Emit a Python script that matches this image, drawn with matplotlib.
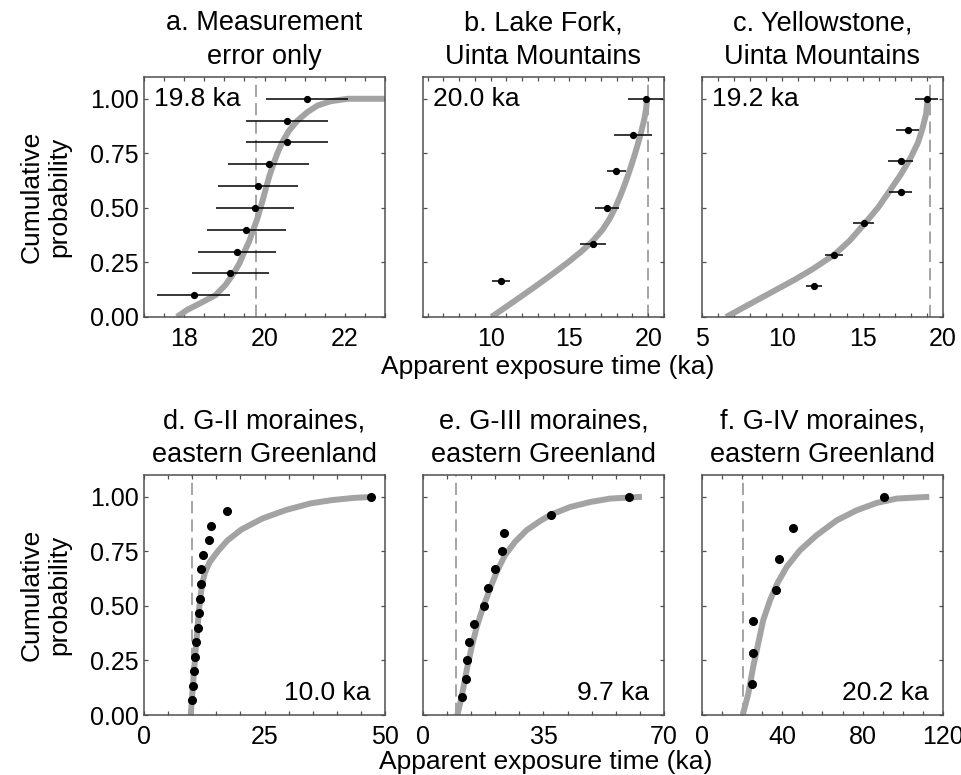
import matplotlib
matplotlib.use("Agg")
import matplotlib.pyplot as plt
from matplotlib.ticker import MultipleLocator

plt.rcParams['font.family'] = ['Liberation Sans', 'DejaVu Sans']

# ---- panel a: measurement error only
a_age = [18.24, 19.15, 19.32, 19.55, 19.76, 19.84, 20.1, 20.55, 20.57, 21.06]
a_err = [0.91, 0.95, 0.97, 0.98, 0.98, 0.99, 1.0, 1.02, 1.02, 1.03]
a_prob = [0.1, 0.2, 0.3, 0.4, 0.5, 0.6, 0.7, 0.8, 0.9, 1.0]
a_curve_x = [17.82, 18.07, 18.4, 18.78, 19.03, 19.23, 19.38, 19.5, 19.62, 19.72, 19.82, 19.9,
             19.98, 20.05, 20.13, 20.22, 20.32, 20.44, 20.61, 20.82, 21.07, 21.32, 21.65, 22.07, 23.2]
a_curve_y = [0.0, 0.032, 0.063, 0.1, 0.147, 0.2, 0.247, 0.3, 0.347, 0.4, 0.45, 0.5,
             0.552, 0.6, 0.651, 0.7, 0.75, 0.8, 0.854, 0.9, 0.939, 0.969, 0.989, 1.0, 1.0]

# ---- panel b: Lake Fork
b_age = [10.66, 16.5, 17.39, 17.98, 19.04, 19.83]
b_err = [0.55, 0.8, 0.75, 0.6, 1.2, 1.1]
b_prob = [0.167, 0.333, 0.5, 0.667, 0.833, 1.0]
b_curve_x = [10.05, 11.05, 12.05, 13.03, 13.98, 14.9, 15.75, 16.5, 17.1, 17.55, 17.9,
             18.2, 18.47, 18.72, 18.95, 19.17, 19.37, 19.56, 19.73, 19.86, 19.93]
b_curve_y = [0.0, 0.05, 0.1, 0.15, 0.2, 0.25, 0.3, 0.35, 0.4, 0.45, 0.5,
             0.55, 0.6, 0.65, 0.7, 0.75, 0.8, 0.85, 0.9, 0.95, 1.0]

# ---- panel c: Yellowstone
c_age = [11.97, 13.21, 15.08, 17.36, 17.36, 17.8, 18.98]
c_err = [0.49, 0.55, 0.65, 0.72, 0.75, 0.73, 0.7]
c_prob = [0.143, 0.286, 0.429, 0.571, 0.714, 0.857, 1.0]
c_curve_x = [6.5, 7.5, 8.5, 9.5, 10.75, 11.9, 13.25, 14.2, 15.15, 15.95, 16.75, 17.35,
             17.95, 18.45, 18.72, 18.95, 19.05]
c_curve_y = [0.0, 0.04, 0.08, 0.12, 0.17, 0.22, 0.286, 0.35, 0.43, 0.5, 0.585, 0.65,
             0.724, 0.8, 0.862, 0.93, 1.0]

# ---- panel d: G-II
d_age = [9.93, 10.1, 10.42, 10.48, 10.76, 11.1, 11.46, 11.6, 11.74, 11.74, 12.15, 13.54,
         13.82, 17.3, 47.15]
d_prob = [0.067, 0.133, 0.2, 0.267, 0.333, 0.4, 0.467, 0.533, 0.6, 0.667, 0.733, 0.8,
          0.867, 0.933, 1.0]
d_curve_x = [9.7, 10.28, 10.83, 11.4, 11.75, 12.08, 12.6, 13.6, 15.3, 17.3, 20.2, 24.5,
             29.5, 34.6, 39.0, 43.5, 47.7]
d_curve_y = [0.0, 0.175, 0.328, 0.48, 0.55, 0.6, 0.65, 0.7, 0.75, 0.8, 0.85, 0.9,
             0.94, 0.97, 0.985, 0.995, 1.0]

# ---- panel e: G-III
e_age = [11.24, 12.5, 12.9, 13.37, 14.83, 17.73, 18.99, 20.93, 23.06, 23.55, 37.1, 59.9]
e_prob = [0.083, 0.167, 0.25, 0.333, 0.417, 0.5, 0.583, 0.667, 0.75, 0.833, 0.917, 1.0]
e_curve_x = [9.98, 11.24, 12.7, 14.15, 15.6, 17.5, 19.5, 21.4, 23.8, 26.7, 30.1, 34.0,
             37.1, 42.7, 48.5, 54.4, 63.6]
e_curve_y = [0.0, 0.084, 0.206, 0.313, 0.404, 0.496, 0.58, 0.656, 0.732, 0.793, 0.847, 0.889,
             0.918, 0.953, 0.976, 0.992, 1.0]

# ---- panel f: G-IV
f_age = [24.9, 25.5, 25.5, 36.85, 38.5, 45.5, 90.6]
f_prob = [0.143, 0.286, 0.429, 0.571, 0.714, 0.857, 1.0]
f_curve_x = [20.3, 23.1, 25.5, 28.0, 30.5, 33.9, 37.5, 42.2, 48.8, 57.1, 67.1, 77.0, 87.0,
             97.0, 113.2]
f_curve_y = [0.0, 0.099, 0.221, 0.328, 0.435, 0.526, 0.603, 0.679, 0.755, 0.824, 0.892, 0.938,
             0.972, 0.992, 1.0]

titles = ["a. Measurement\nerror only", "b. Lake Fork,\nUinta Mountains",
          "c. Yellowstone,\nUinta Mountains", "d. G-II moraines,\neastern Greenland",
          "e. G-III moraines,\neastern Greenland", "f. G-IV moraines,\neastern Greenland"]
true_ages = [19.8, 20.0, 19.2, 10.0, 9.7, 20.2]
age_labels = ["19.8 ka", "20.0 ka", "19.2 ka", "10.0 ka", "9.7 ka", "20.2 ka"]
xlims = [(17, 23), (5.7, 21), (5, 20), (0, 50), (0, 70), (0, 120)]
xmajor = [2, 5, 5, 25, 35, 40]
xminor = [0.5, 1, 1, 5, 7, 10]

curve_col = '#a3a3a3'
spine_col = '#505050'

fig = plt.figure(figsize=(9.62, 7.75), dpi=100)
lefts = [0.1497, 0.4397, 0.7297]
bottoms = [0.5910, 0.0774]
w, h = 0.2505, 0.3097

ages = [a_age, b_age, c_age, d_age, e_age, f_age]
probs = [a_prob, b_prob, c_prob, d_prob, e_prob, f_prob]
errs = [a_err, b_err, c_err, None, None, None]
cx = [a_curve_x, b_curve_x, c_curve_x, d_curve_x, e_curve_x, f_curve_x]
cy = [a_curve_y, b_curve_y, c_curve_y, d_curve_y, e_curve_y, f_curve_y]

for i in range(6):
    ax = fig.add_axes([lefts[i % 3], bottoms[i // 3], w, h])
    ax.axvline(true_ages[i], color='#8c8c8c', lw=1.1, ls=(0, (8, 4)), zorder=1)
    ax.plot(cx[i], cy[i], color=curve_col, lw=4.3, solid_capstyle='butt',
            solid_joinstyle='round', zorder=2)
    if errs[i] is not None:
        ax.errorbar(ages[i], probs[i], xerr=errs[i], fmt='o', color='black',
                    ms=4.2, elinewidth=1.1, capsize=0, zorder=3)
    else:
        ax.plot(ages[i], probs[i], 'o', color='black', ms=5.5, zorder=3)

    ax.set_xlim(*xlims[i])
    ax.set_ylim(0, 1.1)
    ax.xaxis.set_major_locator(MultipleLocator(xmajor[i]))
    ax.xaxis.set_minor_locator(MultipleLocator(xminor[i]))
    ax.set_yticks([0, 0.25, 0.5, 0.75, 1.0])
    ax.tick_params(which='both', direction='in', top=True, right=True,
                   length=3.2, width=0.9, color=spine_col, labelsize=18)
    ax.tick_params(axis='x', pad=7)
    ax.tick_params(axis='y', pad=4)
    for s in ax.spines.values():
        s.set_color(spine_col)
        s.set_linewidth(1.1)

    if i % 3 == 0:
        ax.set_yticklabels(['0.00', '0.25', '0.50', '0.75', '1.00'])
        ax.set_ylabel("Cumulative\nprobability", fontsize=19)
        ax.yaxis.set_label_coords(-0.30, 0.5)
    else:
        ax.set_yticklabels([])

    ax.set_title(titles[i], fontsize=19.5, pad=9, linespacing=1.4)

    if i < 3:
        ax.text(0.04, 1.0, age_labels[i], transform=ax.get_yaxis_transform(),
                fontsize=19, ha='left', va='center')
    else:
        ax.text(0.94, 0.10, age_labels[i], transform=ax.get_yaxis_transform(),
                fontsize=19, ha='right', va='center')

fig.text(0.5696, 0.5265, "Apparent exposure time (ka)", fontsize=19, ha='center', va='center')
fig.text(0.5676, 0.0168, "Apparent exposure time (ka)", fontsize=19, ha='center', va='center')

fig.savefig("out.png", dpi=100)
